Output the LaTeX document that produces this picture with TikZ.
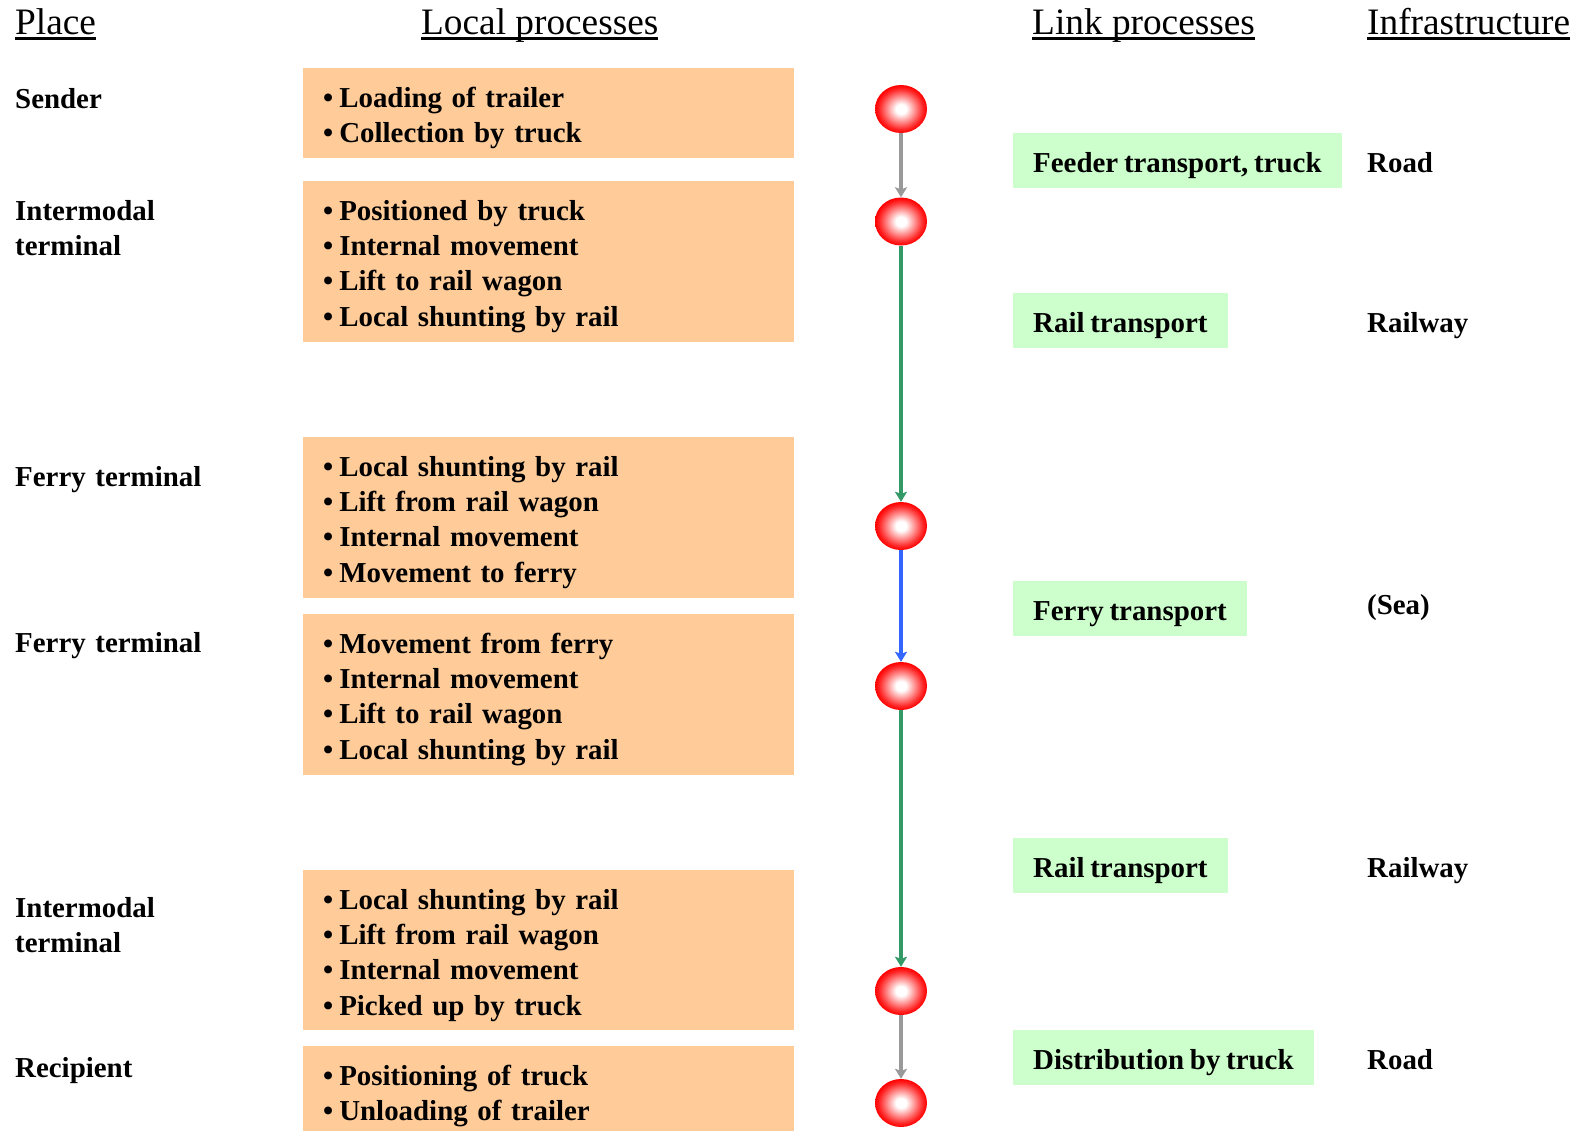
\documentclass[tikz,border=0pt]{standalone}
\usepackage{fontspec}
\setmainfont{Liberation Serif}
\usetikzlibrary{arrows.meta,shapes.geometric}
\definecolor{localorange}{HTML}{FFCC99}
\definecolor{linkgreen}{HTML}{CCFFCC}
\definecolor{roadgray}{HTML}{999999}
\definecolor{railgreen}{HTML}{339966}
\definecolor{seablue}{HTML}{3366FF}
\pgfdeclareradialshading{stopball}{\pgfpoint{0bp}{0bp}}{color(0bp)=(white); color(5bp)=(white); color(21bp)=(red!85); color(25bp)=(red); color(50bp)=(red)}
\newcommand{\headul}[1]{\setbox0\hbox{#1}\rlap{\rule[-5.5pt]{\wd0}{2.5pt}}\box0}
\newcommand{\itm}{\textbullet\hspace{6pt}}
\newcommand{\bodyfont}{\fontsize{28.9}{35.3}\selectfont\bfseries\spaceskip=.2em plus .1em minus .05em\relax}
\tikzset{
  body/.style={font=\bodyfont},
  head/.style={anchor=base west, inner sep=0, font=\fontsize{37.3}{40}\selectfont},
  place/.style={body, anchor=base west, inner sep=0, text width=260, align=left},
  localbox/.style={body, fill=localorange, anchor=north west, inner xsep=20, inner ysep=0,
    text width=451, align=left, text height=39, text depth=#1},
  linkbox/.style={body, fill=linkgreen, anchor=base west, inner xsep=20, inner ysep=0,
    text height=39, text depth=16},
  infra/.style={body, anchor=base west, inner sep=0},
  ball/.style={ellipse, minimum width=52, minimum height=48, inner sep=0, shading=stopball},
  link/.style={line width=4.5, -{Stealth[length=10,width=12,inset=2]}}
}
\begin{document}
\begin{tikzpicture}[x=1pt,y=-1pt]
\useasboundingbox (0,0) rectangle (1581,1132);
% column heads
\node[head] (hplace) at (15,34.3) {\headul{Place}};
\node[head] (hlocal) at (421,34.3) {\headul{Local processes}};
\node[head] (hlink) at (1032,34.3) {\headul{Link processes}};
\node[head] (hinfra) at (1367,34.3) {\headul{Infrastructure}};
% places
\node[place] (p1) at (15,108) {Sender};
\node[place] (p2) at (15,220) {Intermodal\\terminal};
\node[place] (p3) at (15,486) {Ferry terminal};
\node[place] (p4) at (15,652) {Ferry terminal};
\node[place] (p5) at (15,917) {Intermodal\\terminal};
\node[place] (p6) at (15,1077) {Recipient};
% local processes
\node[localbox=51] (l1) at (303,68) {\itm Loading of trailer\\\itm Collection by truck};
\node[localbox=122] (l2) at (303,181) {\itm Positioned by truck\\\itm Internal movement\\\itm Lift to rail wagon\\\itm Local shunting by rail};
\node[localbox=122] (l3) at (303,437) {\itm Local shunting by rail\\\itm Lift from rail wagon\\\itm Internal movement\\\itm Movement to ferry};
\node[localbox=122] (l4) at (303,614) {\itm Movement from ferry\\\itm Internal movement\\\itm Lift to rail wagon\\\itm Local shunting by rail};
\node[localbox=121] (l5) at (303,870) {\itm Local shunting by rail\\\itm Lift from rail wagon\\\itm Internal movement\\\itm Picked up by truck};
\node[localbox=46] (l6) at (303,1046) {\itm Positioning of truck\\\itm Unloading of trailer};
% stops
\node[ball] (s1) at (901,109) {};
\node[ball] (s2) at (901,221.5) {};
\node[ball] (s3) at (901,526) {};
\node[ball] (s4) at (901,686) {};
\node[ball] (s5) at (901,991) {};
\node[ball] (s6) at (901,1103) {};
\draw[link, roadgray] (s1) -- (s2);
\draw[link, railgreen] (s2) -- (s3);
\draw[link, seablue] (s3) -- (s4);
\draw[link, railgreen] (s4) -- (s5);
\draw[link, roadgray] (s5) -- (s6);
% link processes
\node[linkbox] (k1) at (1013,172) {Feeder transport, truck};
\node[linkbox] (k2) at (1013,332) {Rail transport};
\node[linkbox] (k3) at (1013,620) {Ferry transport};
\node[linkbox] (k4) at (1013,877) {Rail transport};
\node[linkbox] (k5) at (1013,1069) {Distribution by truck};
% infrastructure
\node[infra] (i1) at (1367,172) {Road};
\node[infra] (i2) at (1367,332) {Railway};
\node[infra] (i3) at (1367,614) {(Sea)};
\node[infra] (i4) at (1367,877) {Railway};
\node[infra] (i5) at (1367,1069) {Road};
\end{tikzpicture}
\end{document}
